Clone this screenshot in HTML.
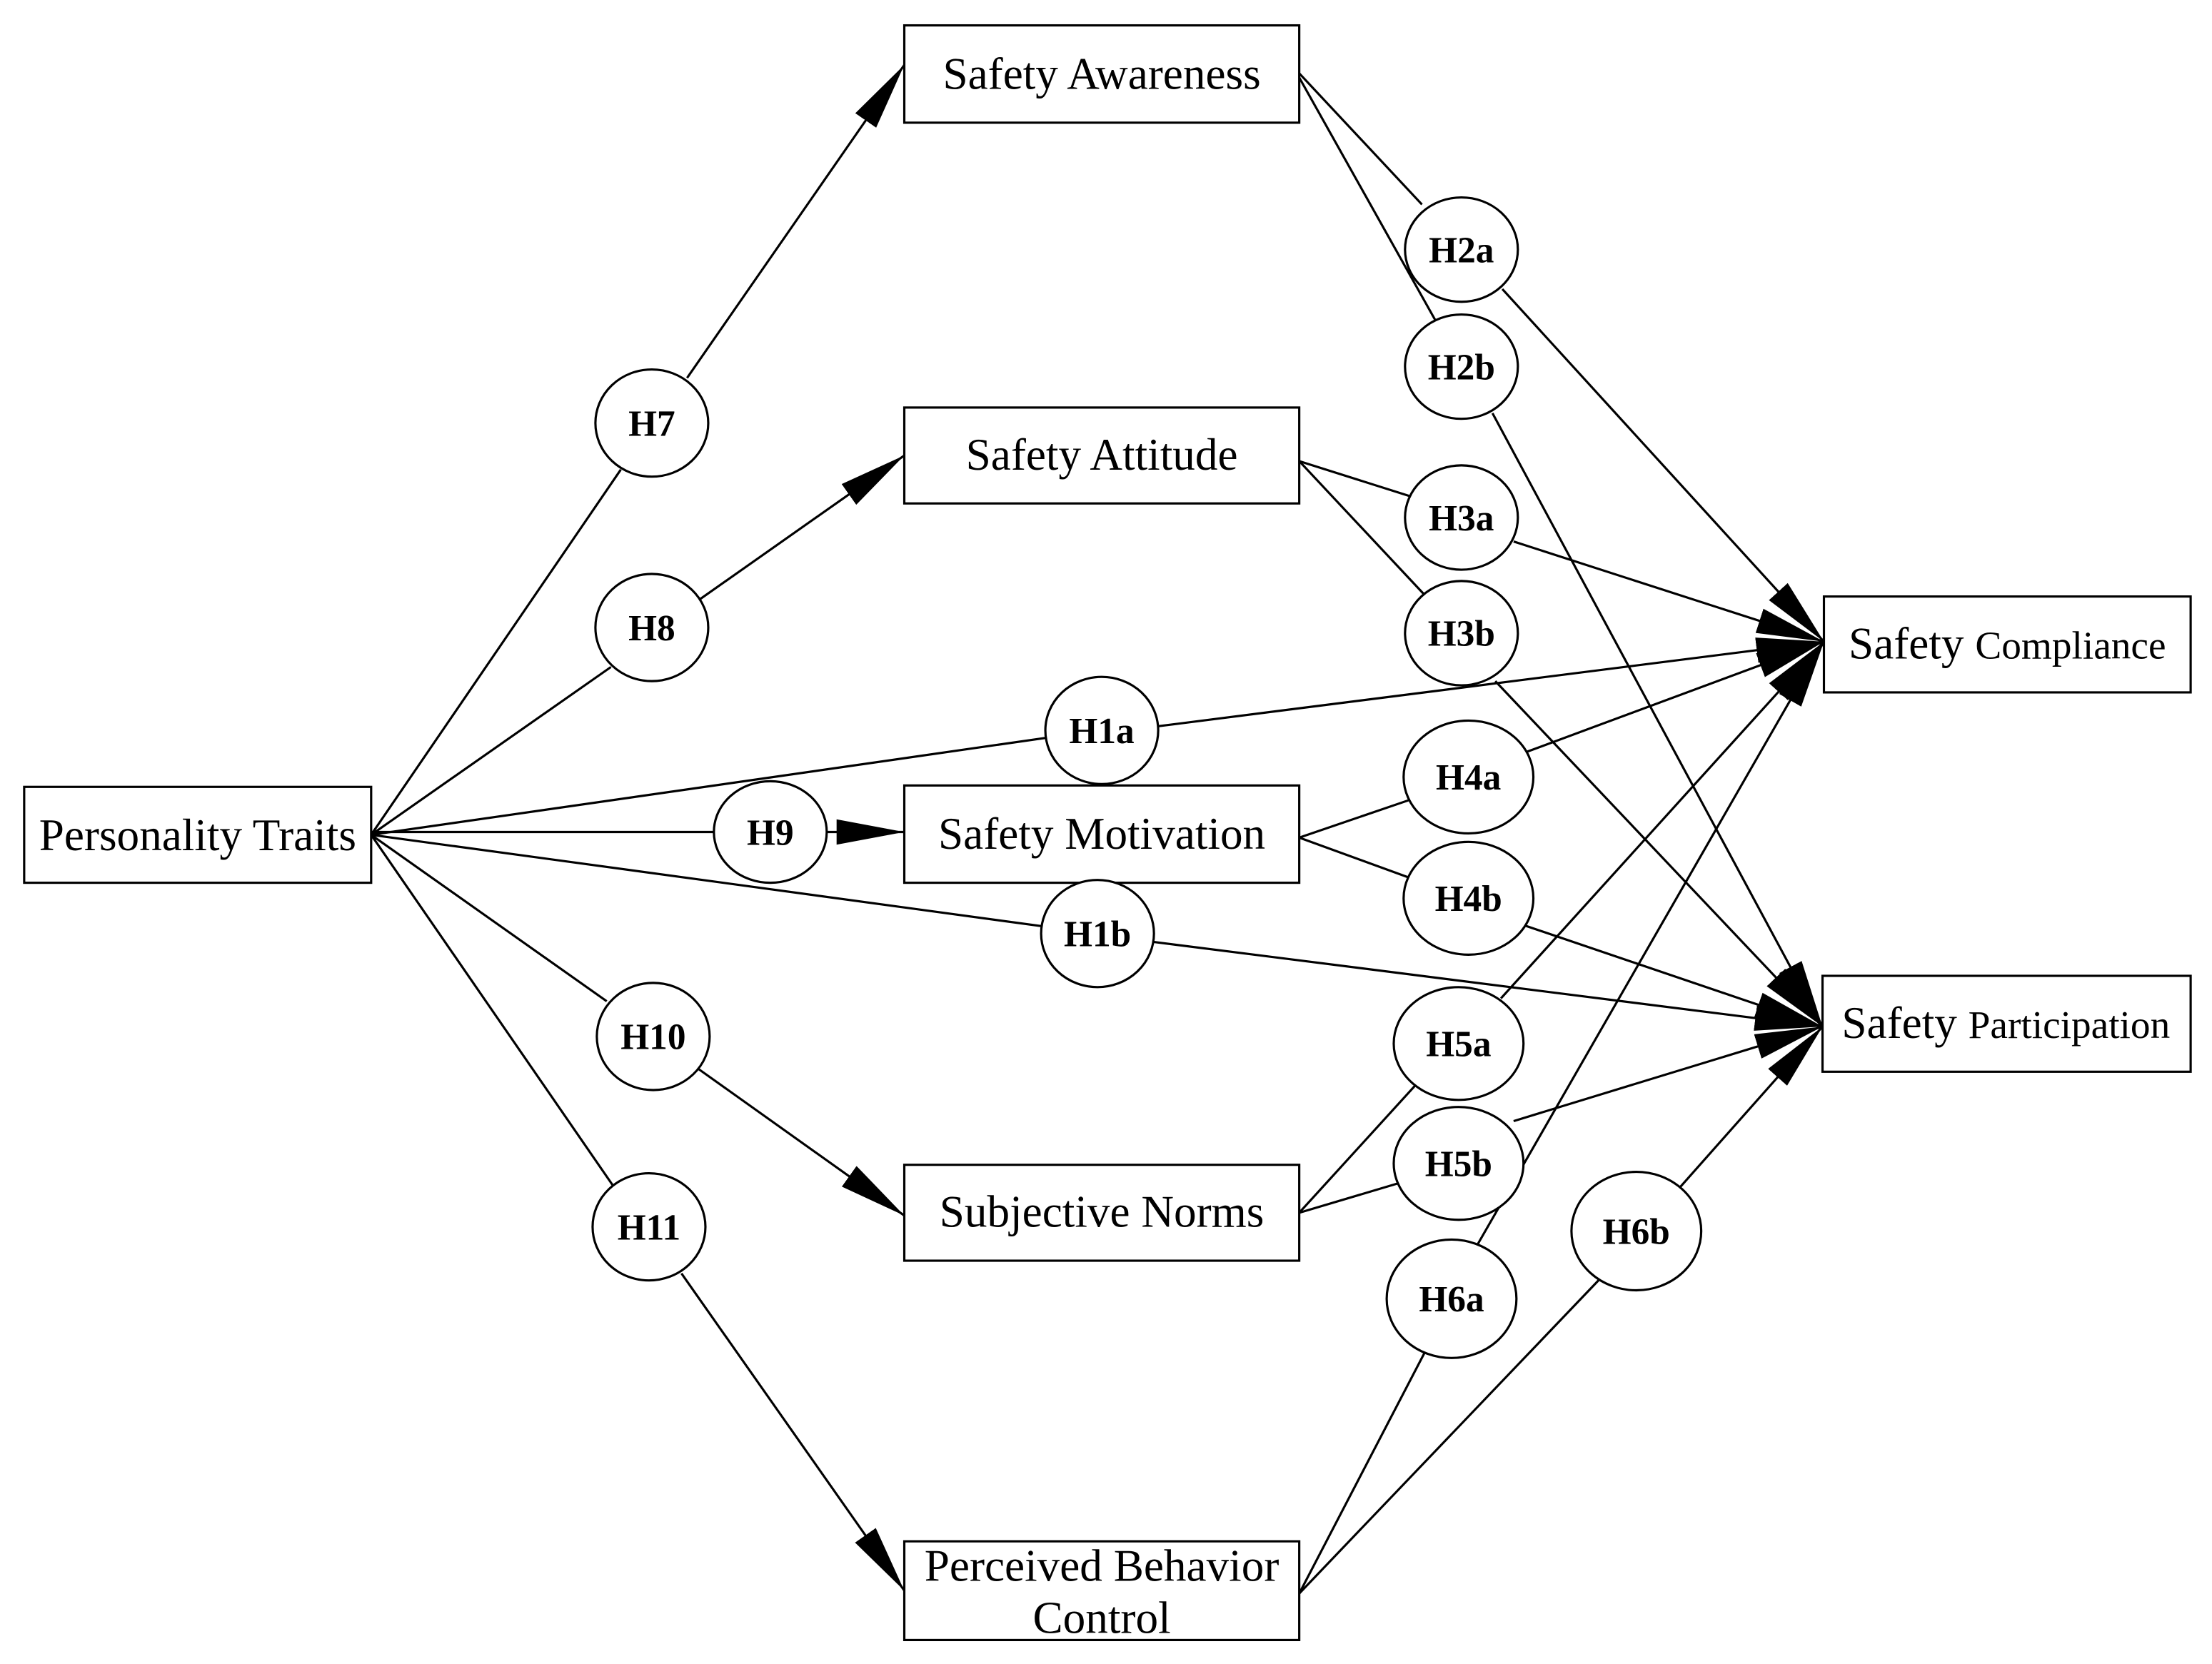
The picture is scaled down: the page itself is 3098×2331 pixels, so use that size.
<!DOCTYPE html>
<html>
<head>
<meta charset="utf-8">
<style>
html,body{margin:0;padding:0;background:#fff;}
svg{display:block;}
text{font-family:"Liberation Serif",serif;fill:#000;}
.b{font-size:32px;}
.h{font-size:26px;font-weight:bold;}
</style>
</head>
<body>
<svg width="3098" height="2331" viewBox="0 0 1568 1180" xmlns="http://www.w3.org/2000/svg">
<defs>
<marker id="a" markerUnits="userSpaceOnUse" markerWidth="50" markerHeight="22" refX="48" refY="10" orient="auto">
<path d="M0,1 L48,10 L0,19 Z" fill="#000"/>
</marker>
</defs>
<g stroke="#000" stroke-width="1.6" fill="none">
<line x1="263" y1="592" x2="440" y2="333"/>
<line x1="487" y1="268" x2="641" y2="46" marker-end="url(#a)"/>
<line x1="263" y1="592" x2="433" y2="473"/>
<line x1="496" y1="425" x2="641" y2="323" marker-end="url(#a)"/>
<line x1="263" y1="592" x2="743" y2="523"/>
<line x1="821" y1="515" x2="1293" y2="455" marker-end="url(#a)"/>
<line x1="263" y1="590" x2="506" y2="590"/>
<line x1="586" y1="590" x2="641" y2="590" marker-end="url(#a)"/>
<line x1="263" y1="592" x2="740" y2="657"/>
<line x1="818" y1="668" x2="1292" y2="728" marker-end="url(#a)"/>
<line x1="263" y1="592" x2="430" y2="710"/>
<line x1="495" y1="758" x2="641" y2="862" marker-end="url(#a)"/>
<line x1="263" y1="592" x2="436" y2="843"/>
<line x1="483" y1="903" x2="641" y2="1128" marker-end="url(#a)"/>
<line x1="921" y1="52" x2="1008" y2="145"/>
<line x1="1065" y1="205" x2="1293" y2="455" marker-end="url(#a)"/>
<line x1="921" y1="55" x2="1018" y2="228"/>
<line x1="1058" y1="293" x2="1292" y2="728" marker-end="url(#a)"/>
<line x1="921" y1="327" x2="1000" y2="352"/>
<line x1="1073" y1="384" x2="1293" y2="455" marker-end="url(#a)"/>
<line x1="921" y1="327" x2="1010" y2="422"/>
<line x1="1060" y1="483" x2="1292" y2="728" marker-end="url(#a)"/>
<line x1="921" y1="594" x2="1000" y2="567"/>
<line x1="1080" y1="534" x2="1293" y2="455" marker-end="url(#a)"/>
<line x1="921" y1="594" x2="998" y2="622"/>
<line x1="1080" y1="656" x2="1292" y2="728" marker-end="url(#a)"/>
<line x1="921" y1="860" x2="1003" y2="770"/>
<line x1="1064" y1="708" x2="1293" y2="455" marker-end="url(#a)"/>
<line x1="921" y1="860" x2="995" y2="838"/>
<line x1="1073" y1="795" x2="1292" y2="728" marker-end="url(#a)"/>
<line x1="921" y1="1130" x2="1010" y2="959"/>
<line x1="1046" y1="885" x2="1293" y2="455" marker-end="url(#a)"/>
<line x1="921" y1="1130" x2="1136" y2="905"/>
<line x1="1190" y1="843" x2="1292" y2="728" marker-end="url(#a)"/>
</g>
<g stroke="#000" stroke-width="1.6" fill="#fff">
<rect x="641" y="18" width="280" height="69"/>
<rect x="641" y="289" width="280" height="68"/>
<rect x="641" y="557" width="280" height="69"/>
<rect x="641" y="826" width="280" height="68"/>
<rect x="641" y="1093" width="280" height="70"/>
<rect x="17" y="558" width="246" height="68"/>
<rect x="1293" y="423" width="260" height="68"/>
<rect x="1292" y="692" width="261" height="68"/>
<ellipse cx="462" cy="300" rx="40" ry="38"/>
<ellipse cx="462" cy="445" rx="40" ry="38"/>
<ellipse cx="781" cy="518" rx="40" ry="38"/>
<ellipse cx="546" cy="590" rx="40" ry="36"/>
<ellipse cx="778" cy="662" rx="40" ry="38"/>
<ellipse cx="463" cy="735" rx="40" ry="38"/>
<ellipse cx="460" cy="870" rx="40" ry="38"/>
<ellipse cx="1036" cy="177" rx="40" ry="37"/>
<ellipse cx="1036" cy="260" rx="40" ry="37"/>
<ellipse cx="1036" cy="367" rx="40" ry="37"/>
<ellipse cx="1036" cy="449" rx="40" ry="37"/>
<ellipse cx="1041" cy="551" rx="46" ry="40"/>
<ellipse cx="1041" cy="637" rx="46" ry="40"/>
<ellipse cx="1034" cy="740" rx="46" ry="40"/>
<ellipse cx="1034" cy="825" rx="46" ry="40"/>
<ellipse cx="1029" cy="921" rx="46" ry="42"/>
<ellipse cx="1160" cy="873" rx="46" ry="42"/>
</g>
<g class="b" text-anchor="middle">
<text x="781" y="63">Safety Awareness</text>
<text x="781" y="333">Safety Attitude</text>
<text x="781" y="602">Safety Motivation</text>
<text x="781" y="870">Subjective Norms</text>
<text x="781" y="1121">Perceived Behavior</text>
<text x="781" y="1158">Control</text>
<text x="140" y="603">Personality Traits</text>
<text x="1423" y="467">Safety <tspan font-size="28">Compliance</tspan></text>
<text x="1422" y="736">Safety <tspan font-size="28">Participation</tspan></text>
</g>
<g class="h" text-anchor="middle">
<text x="462" y="309">H7</text>
<text x="462" y="454">H8</text>
<text x="781" y="527">H1a</text>
<text x="546" y="599">H9</text>
<text x="778" y="671">H1b</text>
<text x="463" y="744">H10</text>
<text x="460" y="879">H11</text>
<text x="1036" y="186">H2a</text>
<text x="1036" y="269">H2b</text>
<text x="1036" y="376">H3a</text>
<text x="1036" y="458">H3b</text>
<text x="1041" y="560">H4a</text>
<text x="1041" y="646">H4b</text>
<text x="1034" y="749">H5a</text>
<text x="1034" y="834">H5b</text>
<text x="1029" y="930">H6a</text>
<text x="1160" y="882">H6b</text>
</g>
</svg>
</body>
</html>
